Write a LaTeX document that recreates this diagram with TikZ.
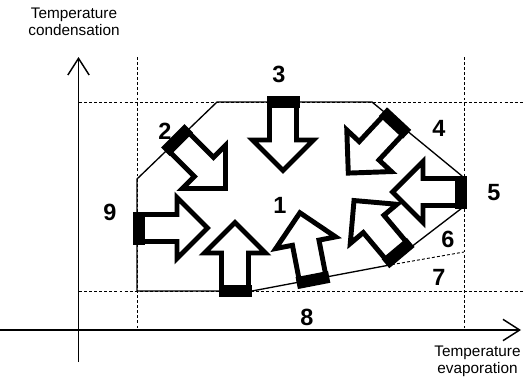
\documentclass[tikz,border=0pt]{standalone}
\usepackage{fontspec}
\setmainfont{Liberation Sans}
\usetikzlibrary{arrows.meta}
\tikzset{
  pics/heatarrow/.style={code={
    \draw[line width=3.7pt, fill=white] (6,-13.5) -- (44,-13.5) -- (44,-30.5) -- (74.5,0) -- (44,30.5) -- (44,13.5) -- (6,13.5) -- cycle;
    \fill (0,-16.5) rectangle (12,16.5);
  }}
}
\begin{document}
\begin{tikzpicture}[x=0.75pt, y=-0.75pt, >={Straight Barb[length=12.5pt,width=16pt]},
  guide/.style={dash pattern=on 2.2pt off 1.6pt, line width=0.7pt},
  num/.style={font=\fontsize{17.6}{20}\selectfont\bfseries, inner sep=0pt},
  axtitle/.style={font=\fontsize{11.5}{13}\selectfont, align=center, inner sep=0pt}]
\useasboundingbox (0,0) rectangle (523,378);
% 1. 辅助虚线
\draw[guide] (137,57) -- (137,330);
\draw[guide] (464,57) -- (464,330);
\draw[guide] (79,102) -- (523,102);
\draw[guide] (79,291) -- (523,291);
\draw[guide] (387,265.5) -- (464,252);

% 2. 坐标轴
\draw[->, line width=1.1pt] (0,330) -- (521,330);
\draw[->, line width=1.1pt] (78.5,362) -- (78.5,57);
\node[axtitle, anchor=base] (ytitle) at (74,35.7) {Temperature\\condensation};
\node[axtitle, anchor=base] (xtitle) at (477.5,373.5) {Temperature\\evaporation};

% 3. 运行区域边界
\draw[line width=1pt] (137,291) -- (252,291) -- (387,265.5) -- (462,208) -- (462,176) -- (372,102) -- (217,102) -- (137,179) -- cycle;

% 4. 箭头 (黑块为起点)
\pic[rotate=-90] at (283,96) {heatarrow};
\pic[rotate=-45] at (172.8,135.8) {heatarrow};
\pic[rotate=-133] at (399.1,118.6) {heatarrow};
\pic[rotate=130] at (401.9,257.6) {heatarrow};
\pic[rotate=180] at (467,192) {heatarrow};
\pic[rotate=101] at (314.1,285.9) {heatarrow};
\pic[rotate=90] at (235,297) {heatarrow};
\pic at (133,228) {heatarrow};

% 5. 编号
\node[num] (n1) at (280,205) {1};
\node[num] (n2) at (165,131) {2};
\node[num] (n3) at (279,74) {3};
\node[num] (n4) at (439,128) {4};
\node[num] (n5) at (494,193) {5};
\node[num] (n6) at (448,239) {6};
\node[num] (n7) at (439,277) {7};
\node[num] (n8) at (307,317) {8};
\node[num] (n9) at (110,212) {9};
\end{tikzpicture}
\end{document}
